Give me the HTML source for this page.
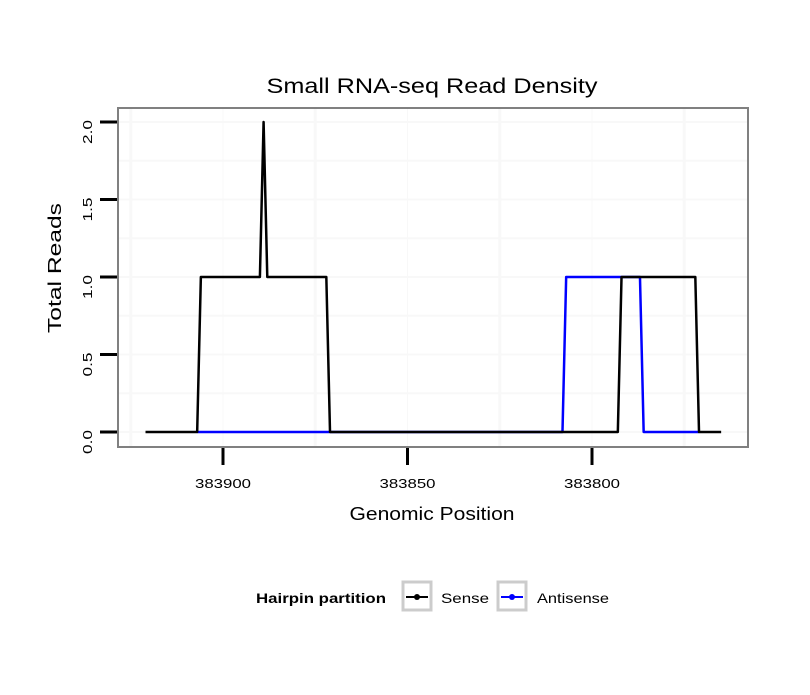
<!DOCTYPE html>
<html><head><meta charset="utf-8"><style>
body{margin:0;background:#fff;font-family:"Liberation Sans",sans-serif}
</style></head><body>
<svg width="810" height="690" viewBox="0 0 810 690" id="c" font-family="Liberation Sans, sans-serif">
<rect width="810" height="690" fill="#fff"/>
<text x="432" y="93" font-size="21" text-anchor="middle" textLength="331" lengthAdjust="spacingAndGlyphs">Small RNA-seq Read Density</text>
<text x="432" y="520" font-size="18" text-anchor="middle" textLength="165" lengthAdjust="spacingAndGlyphs">Genomic Position</text>
<text transform="translate(61,268) rotate(-90)" font-size="18" text-anchor="middle" textLength="130" lengthAdjust="spacingAndGlyphs">Total Reads</text>
<g id="grid"></g><g id="series"></g><g id="axes"></g>
<rect x="118" y="108" width="630" height="339" fill="none" stroke="#808080" stroke-width="2"/>
<g>
<text x="256" y="603" font-size="14" font-weight="bold" textLength="130" lengthAdjust="spacingAndGlyphs">Hairpin partition</text>
<g>
<rect x="403" y="582" width="28" height="28" fill="none" stroke="#ccc" stroke-width="3"/>
<line x1="406" y1="597" x2="428" y2="597" stroke="#000" stroke-width="2"/><circle cx="417" cy="597" r="3" fill="#000"/>
<text x="441" y="603" font-size="14" textLength="48" lengthAdjust="spacingAndGlyphs">Sense</text></g>
<g>
<rect x="498" y="582" width="28" height="28" fill="none" stroke="#ccc" stroke-width="3"/>
<line x1="501" y1="597" x2="523" y2="597" stroke="#00f" stroke-width="2"/><circle cx="512" cy="597" r="3" fill="#00f"/>
<text x="537" y="603" font-size="14" textLength="72" lengthAdjust="spacingAndGlyphs">Antisense</text></g>
</g>
</svg>
<script>
const xTicks=[383900,383850,383800];
const yTicks=[0,0.5,1,1.5,2];
const yTickLabels=["0.0","0.5","1.0","1.5","2.0"];
const sensePos=[383921,383907,383906,383890,383889,383888,383872,383871,383793,383792,383772,383771,383765];
const senseVal=[0,0,1,1,2,1,1,0,0,1,1,0,0];
const antiPos=[383907,383871,383808,383807,383787,383786,383771];
const antiVal=[0,0,0,1,1,0,0];
const NS='http://www.w3.org/2000/svg';
const X=p=>223+(383900-p)*3.69;
const Y=v=>432-v*155;
function mk(t,a,parent){const e=document.createElementNS(NS,t);for(const k in a)e.setAttribute(k,a[k]);parent.appendChild(e);return e;}
const g=document.getElementById('grid'),s=document.getElementById('series'),ax=document.getElementById('axes');
for(let v=0;v<=2;v+=0.25){const l=mk('line',{x1:119,x2:747,y1:Y(v),y2:Y(v),stroke:'#f8f8f8','stroke-width':2},g);

}
for(let p=383925;p>=383760;p-=25){const l=mk('line',{x1:X(p),x2:X(p),y1:109,y2:446,stroke:'#f8f8f8','stroke-width':p%50?3:1},g);

}
function path(pos,val,col,name){const d=pos.map((p,i)=>(i?'L':'M')+X(p)+','+Y(val[i])).join(' ');
const e=mk('path',{d:d,fill:'none',stroke:col,'stroke-width':2.5,'stroke-linejoin':'round'},s);

}
path(antiPos,antiVal,'#0000ff','antisense-line');
path(sensePos,senseVal,'#000','sense-line');
yTicks.forEach((v,i)=>{const l=mk('line',{x1:100,x2:117,y1:Y(v),y2:Y(v),stroke:'#000','stroke-width':3},ax);


const t=mk('text',{transform:`translate(92,${Y(v)-2}) rotate(-90)`,'font-size':13,'text-anchor':'end',textLength:24,lengthAdjust:'spacingAndGlyphs'},ax);t.textContent=yTickLabels[i];

});
xTicks.forEach(p=>{const l=mk('line',{x1:X(p),x2:X(p),y1:448,y2:465,stroke:'#000','stroke-width':3},ax);


const t=mk('text',{x:X(p),y:488,'font-size':13,'text-anchor':'middle',textLength:56,lengthAdjust:'spacingAndGlyphs'},ax);t.textContent=p;

});
</script>
</body></html>
